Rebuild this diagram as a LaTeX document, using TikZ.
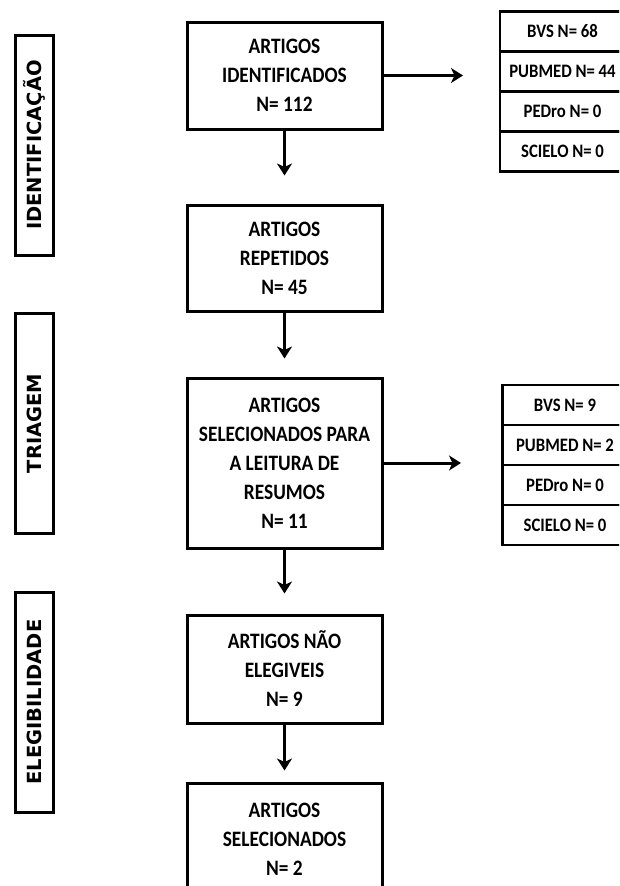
\documentclass[tikz,border=0pt]{standalone}
\usepackage{fontspec}
\usetikzlibrary{arrows.meta}
\newfontfamily\boxfont[FakeStretch=0.88]{Carlito}
\newfontfamily\sidefont{DejaVu Sans}
\begin{document}
\begin{tikzpicture}[x=1pt,y=-1pt,
  mainbox/.style={draw, line width=3pt, minimum width=195pt, align=center, inner sep=0pt,
    font=\boxfont\bfseries\fontsize{22}{29}\selectfont},
  cell/.style={draw, line width=2.8pt, minimum width=125pt, minimum height=40pt, inner sep=0pt,
    font=\boxfont\bfseries\fontsize{19}{20}\selectfont},
  sidebox/.style={draw, line width=3pt, rotate=90, minimum width=220pt, minimum height=38pt, inner sep=0pt,
    font=\sidefont\bfseries\fontsize{19.5}{20}\selectfont},
  arr/.style={line width=3pt, -{Stealth[length=12pt,width=15pt,inset=3.5pt]}}
]
\useasboundingbox (0,0) rectangle (619,886);
\clip (0,0) rectangle (619,886);
\fill[white] (0,0) rectangle (619,886);

% side labels
\node[sidebox] (sid) at (34,145) {IDENTIFICAÇÃO};
\node[sidebox] (stri) at (34,423.5) {TRIAGEM};
\node[sidebox] (sele) at (34,702) {ELEGIBILIDADE};

% main boxes
\node[mainbox, minimum height=107pt] (b1) at (284.5,75.5) {ARTIGOS\\IDENTIFICADOS\\N= 112};
\node[mainbox, minimum height=106pt] (b2) at (284.5,258) {ARTIGOS\\REPETIDOS\\N= 45};
\node[mainbox, minimum height=170pt] (b3) at (284.5,463) {ARTIGOS\\SELECIONADOS PARA\\A LEITURA DE\\RESUMOS\\N= 11};
\node[mainbox, minimum height=108pt] (b4) at (284.5,669) {ARTIGOS NÃO\\ELEGIVEIS\\N= 9};
\node[mainbox, minimum height=112pt] (b5) at (284.5,839) {ARTIGOS\\SELECIONADOS\\N= 2};

% table 1
\node[cell] (t1a) at (562.5,31.5) {BVS N= 68};
\node[cell] (t1b) at (562.5,71.5) {PUBMED N= 44};
\node[cell] (t1c) at (562.5,111.5) {PEDro N= 0};
\node[cell] (t1d) at (562.5,151.5) {SCIELO N= 0};

% table 2
\node[cell] (t2a) at (565,405) {BVS N= 9};
\node[cell] (t2b) at (565,445) {PUBMED N= 2};
\node[cell] (t2c) at (565,485) {PEDro N= 0};
\node[cell] (t2d) at (565,525) {SCIELO N= 0};

% arrows
\coordinate (e1) at (463,75.5);
\coordinate (e3) at (461,463);
\draw[arr] (b1.east) -- (e1);
\draw[arr] (b3.east) -- (e3);
\draw[arr, shorten >=28pt] (b1.south) -- (b2.north);
\draw[arr, shorten >=18pt] (b2.south) -- (b3.north);
\draw[arr, shorten >=20pt] (b3.south) -- (b4.north);
\draw[arr, shorten >=11pt] (b4.south) -- (b5.north);
\end{tikzpicture}
\end{document}
